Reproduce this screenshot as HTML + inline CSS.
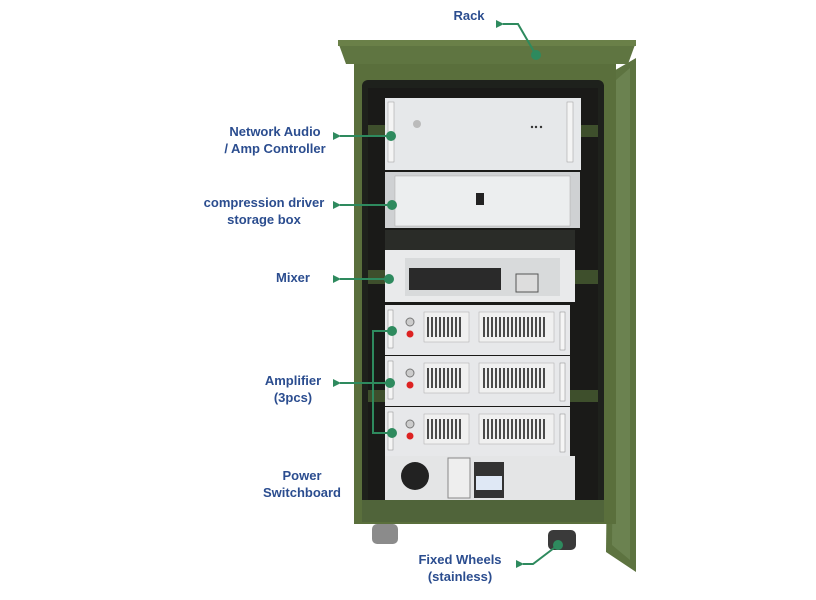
<!DOCTYPE html>
<html><head><style>
html,body{margin:0;padding:0;background:#fff;}
svg{display:block}
text{font-family:"Liberation Sans",sans-serif;font-weight:bold;fill:#2b4d8f;font-size:13px}
</style></head><body>
<svg width="816" height="600" viewBox="0 0 816 600" xmlns="http://www.w3.org/2000/svg">
<defs>
<marker id="ah" markerWidth="8" markerHeight="8" refX="1" refY="4" orient="auto-start-reverse" markerUnits="userSpaceOnUse">
<path d="M8,0 L0,4 L8,8 z" fill="#2e8a5e"/></marker>
</defs>
<!-- door -->
<polygon points="612,72 636,58 636,572 606,552" fill="#5d7340"/>
<polygon points="616,80 630,68 630,560 612,545" fill="#6b8250"/>
<!-- body -->
<rect x="354" y="62" width="262" height="462" fill="#5a6f3c"/>
<polygon points="338,42 636,42 628,64 346,64" fill="#5f7541"/>
<rect x="338" y="40" width="298" height="6" fill="#6a8048"/>
<!-- inner opening -->
<rect x="362" y="80" width="242" height="430" rx="6" fill="#1e211c"/>
<rect x="368" y="88" width="230" height="415" fill="#1a1a18"/>
<rect x="368" y="125" width="230" height="12" fill="#3e4f2c"/>
<rect x="368" y="270" width="230" height="14" fill="#3e4f2c"/>
<rect x="368" y="390" width="230" height="12" fill="#3e4f2c"/>
<rect x="362" y="500" width="242" height="22" fill="#50643a"/>
<!-- controller -->
<rect x="385" y="98" width="196" height="72" fill="#e6e8ea"/>
<rect x="388" y="102" width="6" height="60" fill="#f4f4f4" stroke="#999" stroke-width="0.5"/>
<rect x="567" y="102" width="6" height="60" fill="#f4f4f4" stroke="#999" stroke-width="0.5"/>
<circle cx="417" cy="124" r="4" fill="#bbb"/>
<circle cx="532" cy="127" r="1.2" fill="#333"/><circle cx="536" cy="127" r="1.2" fill="#333"/><circle cx="541" cy="127" r="1.2" fill="#333"/>
<!-- storage box -->
<rect x="385" y="172" width="195" height="56" fill="#cfd1d3"/>
<rect x="395" y="176" width="175" height="50" fill="#eceeef" stroke="#aaa" stroke-width="0.5"/>
<rect x="476" y="193" width="8" height="12" fill="#222"/>
<!-- mixer area -->
<rect x="385" y="230" width="190" height="20" fill="#2a2c28"/>
<rect x="385" y="250" width="190" height="52" fill="#e9eaeb"/>
<rect x="405" y="258" width="155" height="38" fill="#d8dadb"/>
<rect x="409" y="268" width="92" height="22" fill="#2a2a2a"/>
<rect x="516" y="274" width="22" height="18" fill="#ddd" stroke="#555"/>
<!-- amps -->
<g id="amp">
<rect x="385" y="305" width="185" height="50" fill="#e7e8ea"/>
<rect x="388" y="310" width="5" height="38" fill="#f5f5f5" stroke="#888" stroke-width="0.5"/>
<rect x="560" y="312" width="5" height="38" fill="#f5f5f5" stroke="#888" stroke-width="0.5"/>
<rect x="424" y="312" width="45" height="30" fill="#f0f0f0" stroke="#aaa" stroke-width="0.5"/>
<rect x="479" y="312" width="75" height="30" fill="#f0f0f0" stroke="#aaa" stroke-width="0.5"/>
<path d="M428,317v20M432,317v20M436,317v20M440,317v20M444,317v20M448,317v20M452,317v20M456,317v20M460,317v20M484,317v20M488,317v20M492,317v20M496,317v20M500,317v20M504,317v20M508,317v20M512,317v20M516,317v20M520,317v20M524,317v20M528,317v20M532,317v20M536,317v20M540,317v20M544,317v20" stroke="#222" stroke-width="1.6"/>
<circle cx="410" cy="322" r="4" fill="#ccc" stroke="#777"/>
<circle cx="410" cy="334" r="3.5" fill="#d22"/>
</g>
<use href="#amp" y="51"/>
<use href="#amp" y="102"/>
<!-- power -->
<rect x="385" y="456" width="190" height="44" fill="#e4e5e6"/>
<circle cx="415" cy="476" r="14" fill="#222"/>
<rect x="448" y="458" width="22" height="40" fill="#eee" stroke="#888"/>
<rect x="474" y="462" width="30" height="36" fill="#333"/>
<rect x="476" y="476" width="26" height="14" fill="#dfe8f5"/>
<!-- wheels -->
<rect x="372" y="524" width="26" height="20" rx="5" fill="#8b8b8b"/>
<rect x="548" y="530" width="28" height="20" rx="5" fill="#3a3a3a"/>
<!-- connectors -->
<g stroke="#2e8a5e" stroke-width="2" fill="none">
<polyline points="536,55 518,24 503,24" marker-end="url(#ah)"/>
<line x1="391" y1="136" x2="340" y2="136" marker-end="url(#ah)"/>
<line x1="392" y1="205" x2="340" y2="205" marker-end="url(#ah)"/>
<line x1="389" y1="279" x2="340" y2="279" marker-end="url(#ah)"/>
<polyline points="392,331 373,331 373,433 392,433"/>
<line x1="390" y1="383" x2="340" y2="383" marker-end="url(#ah)"/>
<polyline points="558,545 533,564 523,564" marker-end="url(#ah)"/>
</g>
<g fill="#2e8a5e">
<circle cx="536" cy="55" r="5"/><circle cx="391" cy="136" r="5"/><circle cx="392" cy="205" r="5"/>
<circle cx="389" cy="279" r="5"/><circle cx="392" cy="331" r="5"/><circle cx="390" cy="383" r="5"/>
<circle cx="392" cy="433" r="5"/><circle cx="558" cy="545" r="5"/>
</g>
<!-- labels -->
<text x="469" y="20" text-anchor="middle">Rack</text>
<text x="275" y="136" text-anchor="middle">Network Audio</text>
<text x="275" y="153" text-anchor="middle">/ Amp Controller</text>
<text x="264" y="207" text-anchor="middle">compression driver</text>
<text x="264" y="224" text-anchor="middle">storage box</text>
<text x="293" y="282" text-anchor="middle">Mixer</text>
<text x="293" y="385" text-anchor="middle">Amplifier</text>
<text x="293" y="402" text-anchor="middle">(3pcs)</text>
<text x="302" y="480" text-anchor="middle">Power</text>
<text x="302" y="497" text-anchor="middle">Switchboard</text>
<text x="460" y="564" text-anchor="middle">Fixed Wheels</text>
<text x="460" y="581" text-anchor="middle">(stainless)</text>
</svg>
</body></html>
